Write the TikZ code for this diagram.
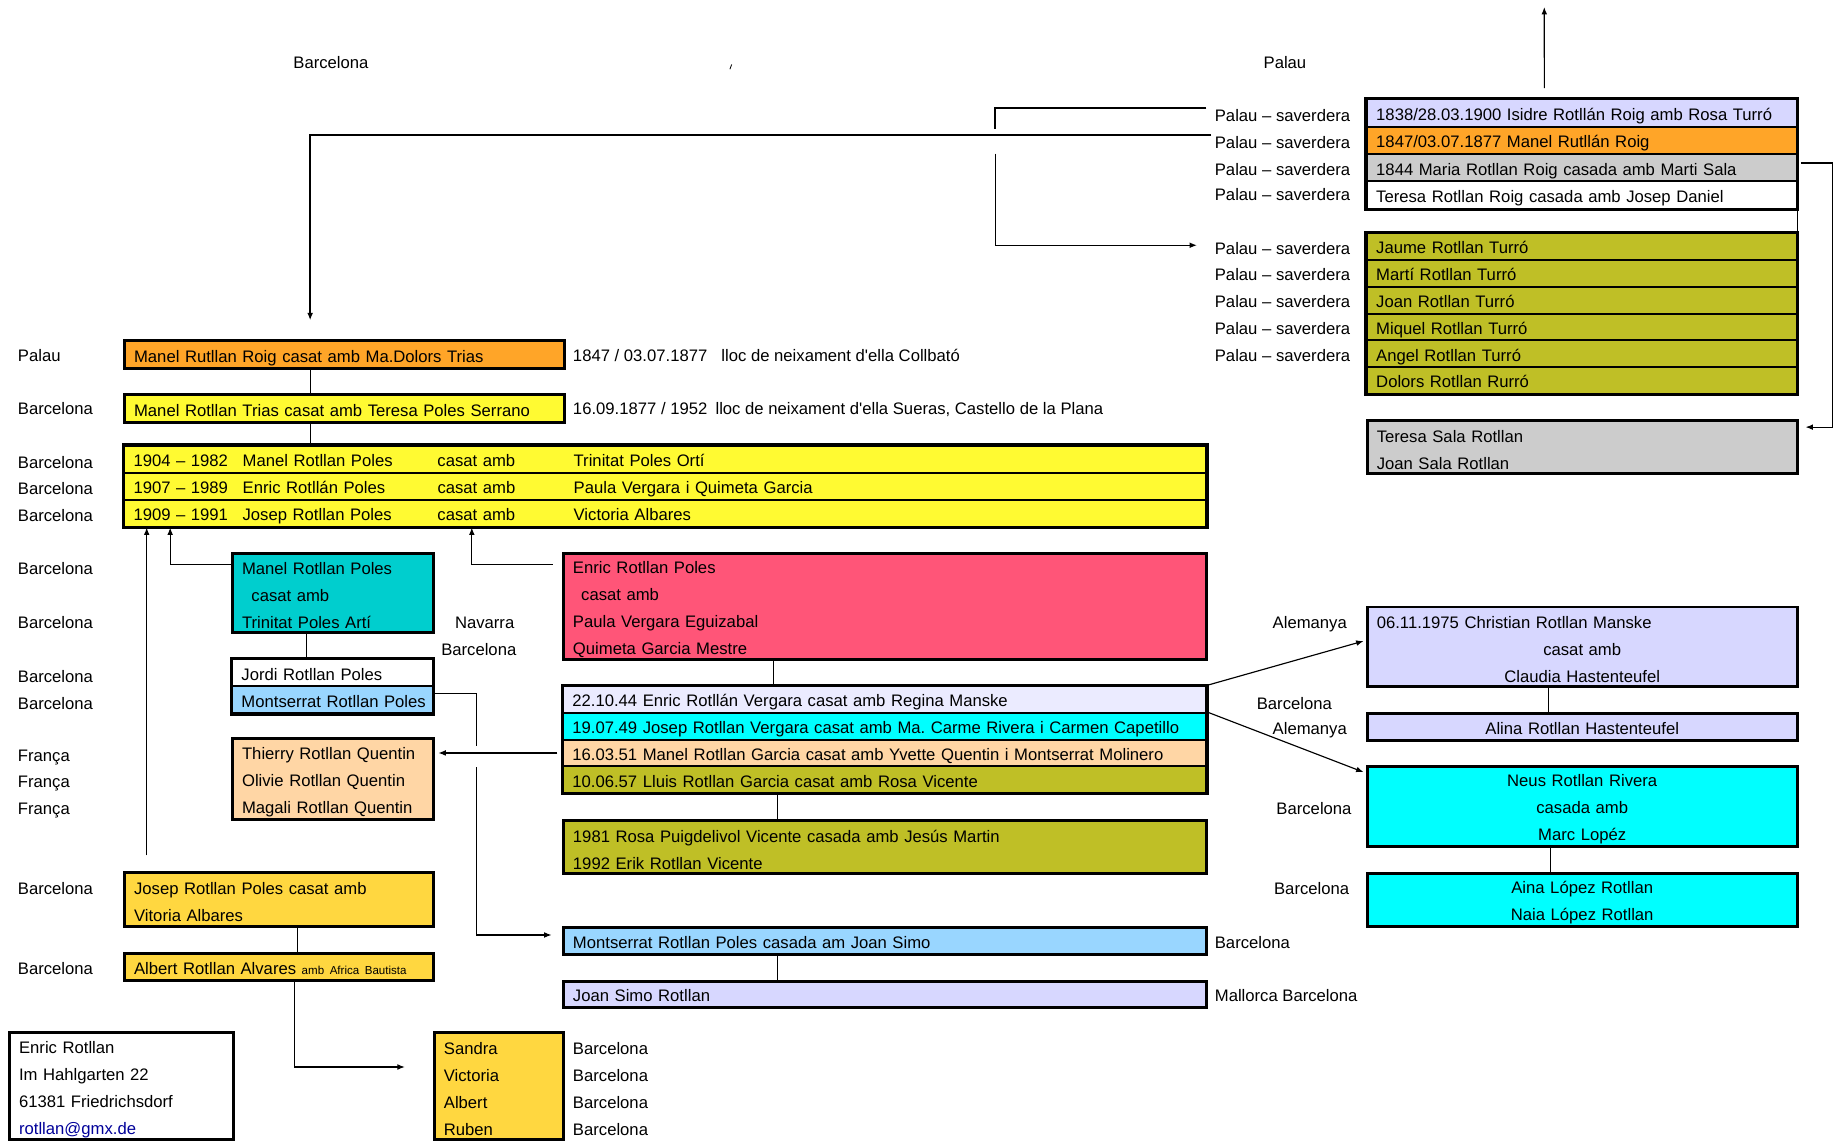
\documentclass[tikz,border=0pt]{standalone}
\usepackage{fontspec}
\setmainfont{Liberation Sans}
\usepackage{xcolor}
\usetikzlibrary{arrows.meta}

\definecolor{lavande}{RGB}{215,215,255}
\definecolor{lavclair}{RGB}{235,235,255}
\definecolor{orangeR}{RGB}{255,165,40}
\definecolor{gris1}{RGB}{204,204,204}
\definecolor{olive1}{RGB}{191,191,38}
\definecolor{jaune1}{RGB}{255,250,50}
\definecolor{turquoise1}{RGB}{0,206,206}
\definecolor{rose1}{RGB}{255,85,120}
\definecolor{bleuclair}{RGB}{153,214,255}
\definecolor{peche}{RGB}{255,214,165}
\definecolor{cyan1}{RGB}{0,255,255}
\definecolor{or1}{RGB}{255,215,64}
\definecolor{bleumail}{RGB}{0,0,153}

% colonnes du grand cadre jaune
\newcommand{\fila}[3]{\makebox[2.325cm][l]{#1}\makebox[4.15cm][l]{#2}\makebox[2.9cm][l]{casat amb}#3}

\begin{document}
\begin{tikzpicture}[x=0.025cm, y=-0.025cm,
    font=\fontsize{10.1}{16.4}\selectfont\frenchspacing,
    rangee/.style={draw, line width=1.1pt, anchor=north west, inner xsep=0.2cm, inner ysep=0pt,
        text height=11pt, text depth=2.1pt, align=left},
    boite/.style={draw, line width=1.8pt, anchor=north west, inner xsep=0.2cm, inner ysep=0pt,
        text height=11pt, align=left},
    cadre/.style={draw, line width=1.8pt},
    lieu/.style={inner sep=0pt, text height=11pt, text depth=2.1pt},
    lien/.style={line width=0.7pt},
    fleche/.style={line width=0.7pt, -{Latex[length=4.5pt,width=3.5pt]}}]
    \useasboundingbox (0,0) rectangle (1568,973);
    %\draw[help lines, step=50] (0,0) grid (1568,973);

    % en-tete
    \node[lieu] (hbcn) at (282,52) {Barcelona};
    \node[lieu] (hpal) at (1095,52) {Palau};
    \draw[line width=0.5pt] (622,59) -- (623.5,55);

    % Palau : Isidre et ses freres et soeurs
    \node[rangee, fill=lavande, text width=8.75cm, minimum height=0.58cm] (r1a) at (1164,84) {1838/28.03.1900 Isidre Rotllán Roig amb Rosa Turró};
    \node[rangee, fill=orangeR, text width=8.75cm, minimum height=0.58cm] (r1b) at (1164,107.25) {1847/03.07.1877 Manel Rutllán Roig};
    \node[rangee, fill=gris1, text width=8.75cm, minimum height=0.58cm] (r1c) at (1164,130.5) {1844 Maria Rotllan Roig casada amb Marti Sala};
    \node[rangee, text width=8.75cm, minimum height=0.58cm] (r1d) at (1164,153.75) {Teresa Rotllan Roig casada amb Josep Daniel};
    \draw[cadre] (r1a.north west) rectangle (r1d.south east);

    \node[rangee, fill=olive1, text width=8.75cm, minimum height=0.57cm] (r2a) at (1164,198) {Jaume Rotllan Turró};
    \node[rangee, fill=olive1, text width=8.75cm, minimum height=0.57cm] (r2b) at (1164,220.8) {Martí Rotllan Turró};
    \node[rangee, fill=olive1, text width=8.75cm, minimum height=0.57cm] (r2c) at (1164,243.7) {Joan Rotllan Turró};
    \node[rangee, fill=olive1, text width=8.75cm, minimum height=0.57cm] (r2d) at (1164,266.5) {Miquel Rotllan Turró};
    \node[rangee, fill=olive1, text width=8.75cm, minimum height=0.57cm] (r2e) at (1164,289.3) {Angel Rotllan Turró};
    \node[rangee, fill=olive1, text width=8.75cm, minimum height=0.57cm] (r2f) at (1164,312.2) {Dolors Rotllan Rurró};
    \draw[cadre] (r2a.north west) rectangle (r2f.south east);

    \node[boite, fill=gris1, text width=8.75cm, minimum height=1.125cm] (r3) at (1164,357) {Teresa Sala Rotllan\\Joan Sala Rotllan};

    \node[lieu, anchor=west] (pa1) at (1035,97) {Palau – saverdera};
    \node[lieu, anchor=west] (pa2) at (1035,120) {Palau – saverdera};
    \node[lieu, anchor=west] (pa3) at (1035,143) {Palau – saverdera};
    \node[lieu, anchor=west] (pa4) at (1035,165) {Palau – saverdera};
    \node[lieu, anchor=west] (pa5) at (1035,211) {Palau – saverdera};
    \node[lieu, anchor=west] (pa6) at (1035,233) {Palau – saverdera};
    \node[lieu, anchor=west] (pa7) at (1035,256) {Palau – saverdera};
    \node[lieu, anchor=west] (pa8) at (1035,279) {Palau – saverdera};
    \node[lieu, anchor=west] (pa9) at (1035,302) {Palau – saverdera};

    % branche de gauche
    \node[rangee, fill=orangeR, line width=1.8pt, text width=8.975cm, minimum height=0.6cm] (l1) at (105,289) {Manel Rutllan Roig casat amb Ma.Dolors Trias};
    \node[rangee, fill=jaune1, line width=1.8pt, text width=8.975cm, minimum height=0.6cm] (l2) at (105,335) {Manel Rotllan Trias casat amb Teresa Poles Serrano};
    \node[lieu, anchor=west] (dl1) at (488,302) {1847 / 03.07.1877\hspace{0.3cm}lloc de neixament d\textquotesingle ella Collbató};
    \node[lieu, anchor=west] (dl2) at (488,347) {16.09.1877 / 1952\hspace{0.175cm}lloc de neixament d\textquotesingle ella Sueras, Castello de la Plana};

    \node[rangee, fill=jaune1, text width=22.65cm, minimum height=0.575cm] (l3a) at (105,379) {\fila{1904 – 1982}{Manel Rotllan Poles}{Trinitat Poles Ortí}};
    \node[rangee, fill=jaune1, text width=22.65cm, minimum height=0.575cm] (l3b) at (105,402) {\fila{1907 – 1989}{Enric Rotllán Poles}{Paula Vergara i Quimeta Garcia}};
    \node[rangee, fill=jaune1, text width=22.65cm, minimum height=0.575cm] (l3c) at (105,425) {\fila{1909 – 1991}{Josep Rotllan Poles}{Victoria Albares}};
    \draw[cadre] (l3a.north west) rectangle (l3c.south east);

    \node[boite, fill=turquoise1, text width=3.875cm, minimum height=1.7cm] (c1) at (197,470) {Manel Rotllan Poles\\\hspace*{0.2cm}casat amb\\Trinitat Poles Artí};
    \node[rangee, text width=3.875cm, minimum height=0.575cm] (ja) at (197,561) {Jordi Rotllan Poles};
    \node[rangee, fill=bleuclair, text width=3.875cm, minimum height=0.575cm] (jb) at (197,584) {\mbox{Montserrat Rotllan Poles}};
    \draw[cadre] (ja.north west) rectangle (jb.south east);
    \node[boite, fill=peche, text width=3.875cm, minimum height=1.725cm] (t) at (197,628) {Thierry Rotllan Quentin\\Olivie Rotllan Quentin\\Magali Rotllan Quentin};

    \node[lieu] (nav) at (413,529) {Navarra};
    \node[lieu] (nbcn) at (408,552) {Barcelona};

    \node[boite, fill=rose1, text width=13.3cm, minimum height=2.275cm] (p) at (479,470) {Enric Rotllan Poles\\\hspace*{0.175cm}casat amb\\Paula Vergara Eguizabal\\Quimeta Garcia Mestre};
    \node[rangee, fill=lavclair, text width=13.3cm, minimum height=0.569cm] (qa) at (479,584) {22.10.44 Enric Rotllán Vergara casat amb Regina Manske};
    \node[rangee, fill=cyan1, text width=13.3cm, minimum height=0.569cm] (qb) at (479,606.75) {19.07.49 Josep Rotllan Vergara casat amb Ma. Carme Rivera i Carmen Capetillo};
    \node[rangee, fill=peche, text width=13.3cm, minimum height=0.569cm] (qc) at (479,629.5) {16.03.51 Manel Rotllan Garcia casat amb Yvette Quentin i Montserrat Molinero};
    \node[rangee, fill=olive1, text width=13.3cm, minimum height=0.569cm] (qd) at (479,652.25) {10.06.57 Lluis Rotllan Garcia casat amb Rosa Vicente};
    \draw[cadre] (qa.north west) rectangle (qd.south east);
    \node[boite, fill=olive1, text width=13.3cm, minimum height=1.125cm] (o) at (479,698) {1981 Rosa Puigdelivol Vicente casada amb Jesús Martin\\1992 Erik Rotllan Vicente};
    \node[rangee, fill=bleuclair, line width=1.8pt, text width=13.3cm, minimum height=0.575cm] (m) at (479,789) {Montserrat Rotllan Poles casada am Joan Simo};
    \node[rangee, fill=lavande, line width=1.8pt, text width=13.3cm, minimum height=0.55cm] (s) at (479,835) {Joan Simo Rotllan};
    \node[lieu, anchor=west] (mbcn) at (1035,802) {Barcelona};
    \node[lieu, anchor=west] (sbcn) at (1035,847) {Mallorca Barcelona};

    \node[boite, fill=or1, text width=6.175cm, minimum height=1.15cm] (jp) at (105,742) {Josep Rotllan Poles casat amb\\Vitoria Albares};
    \node[rangee, fill=or1, line width=1.8pt, text width=6.175cm, minimum height=0.575cm] (ar) at (105,811) {Albert Rotllan Alvares {\fontsize{7}{8}\selectfont amb Africa Bautista}};
    \node[boite, fill=or1, text width=2.35cm, minimum height=2.275cm] (k) at (369,879) {Sandra\\Victoria\\Albert\\Ruben};
    \node[lieu, anchor=west] (k1) at (488,892) {Barcelona};
    \node[lieu, anchor=west] (k2) at (488,915) {Barcelona};
    \node[lieu, anchor=west] (k3) at (488,938) {Barcelona};
    \node[lieu, anchor=west] (k4) at (488,961) {Barcelona};
    \node[boite, text width=4.375cm, minimum height=2.275cm] (adr) at (7,879) {Enric Rotllan\\Im Hahlgarten 22\\61381 Friedrichsdorf\\\textcolor{bleumail}{rotllan@gmx.de}};

    % lieux de la marge gauche
    \node[lieu, anchor=west] (g1) at (15,302) {Palau};
    \node[lieu, anchor=west] (g2) at (15,347) {Barcelona};
    \node[lieu, anchor=west] (g3) at (15,393) {Barcelona};
    \node[lieu, anchor=west] (g4) at (15,415) {Barcelona};
    \node[lieu, anchor=west] (g5) at (15,438) {Barcelona};
    \node[lieu, anchor=west] (g6) at (15,483) {Barcelona};
    \node[lieu, anchor=west] (g7) at (15,529) {Barcelona};
    \node[lieu, anchor=west] (g8) at (15,575) {Barcelona};
    \node[lieu, anchor=west] (g9) at (15,598) {Barcelona};
    \node[lieu, anchor=west] (g10) at (15,643) {França};
    \node[lieu, anchor=west] (g11) at (15,665) {França};
    \node[lieu, anchor=west] (g12) at (15,688) {França};
    \node[lieu, anchor=west] (g13) at (15,756) {Barcelona};
    \node[lieu, anchor=west] (g14) at (15,824) {Barcelona};

    % branche d'Allemagne et de Barcelone
    \node[boite, fill=lavande, text width=8.75cm, minimum height=1.7cm] (ch) at (1164,516) {06.11.1975 Christian Rotllan Manske\\\makebox[\linewidth]{casat amb}\\\makebox[\linewidth]{Claudia Hastenteufel}};
    \node[rangee, fill=lavande, line width=1.8pt, align=center, text width=8.75cm, minimum height=0.575cm] (al) at (1164,607) {Alina Rotllan Hastenteufel};
    \node[boite, fill=cyan1, align=center, text width=8.75cm, minimum height=1.7cm] (n) at (1164,652) {Neus Rotllan Rivera\\casada amb\\Marc Lopéz};
    \node[boite, fill=cyan1, align=center, text width=8.75cm, minimum height=1.125cm] (na) at (1164,743) {Aina López Rotllan\\Naia López Rotllan};
    \node[lieu, anchor=east] (d1) at (1148,529) {Alemanya};
    \node[lieu] (d2) at (1103,598) {Barcelona};
    \node[lieu, anchor=east] (d3) at (1148,620) {Alemanya};
    \node[lieu, anchor=east] (d4) at (1152,688) {Barcelona};
    \node[lieu, anchor=east] (d5) at (1150,756) {Barcelona};

    % liens
    \coordinate (haut) at (1316,6);
    \coordinate (crochet) at (848,110);
    \coordinate (depart) at (848,131);
    \coordinate (saut1) at (406,636);
    \coordinate (saut2) at (406,654);
    \draw[fleche] ([xshift=3.8cm, yshift=0.225cm]r1a.north west) -- (haut);
    \draw[lien, line width=1pt] ([xshift=-0.175cm, yshift=0.125cm]pa1.west) -| (crochet);
    \draw[fleche, line width=1pt] ([xshift=-0.075cm, yshift=0.125cm]pa2.west) -| ([xshift=-0.7375cm, yshift=0.4cm]l1.north);
    \draw[fleche] (depart) |- ([xshift=-0.375cm, yshift=0.05cm]pa5.west);
    \draw[lien] (r1d.south east) -- (r2a.north east);
    \draw[fleche] ([xshift=0.075cm, yshift=0.1cm]r1c.east) -- ++(27,0) |- ([xshift=0.15cm, yshift=-0.175cm]r3.north east);
    \draw[lien] ([xshift=-0.7375cm]l1.south) -- ([xshift=-0.7375cm]l2.north);
    \draw[lien] ([xshift=-0.7375cm]l2.south) -- ([xshift=-0.7375cm]l2.south |- l3a.north);
    \draw[fleche] ([xshift=0.5cm, yshift=0.325cm]jp.north west) -- ([xshift=0.5cm]jp.north west |- l3c.south);
    \draw[fleche] ([yshift=-0.275cm]c1.north west) -| ([xshift=1cm]l3c.south west);
    \draw[fleche] ([xshift=-0.2cm, yshift=-0.275cm]p.north west) -| ([xshift=7.425cm]l3c.south west);
    \draw[lien] ([xshift=-0.5625cm]c1.south) -- ([xshift=-0.5625cm]c1.south |- ja.north);
    \draw[lien] ([yshift=0.125cm]jb.east) -| (saut1);
    \draw[fleche] (saut2) |- ([xshift=-0.225cm, yshift=0.125cm]m.west);
    \draw[fleche] ([xshift=-0.1cm]qc.west) -- ([xshift=0.075cm]qc.west -| t.east);
    \draw[lien] ([xshift=-2.375cm]p.south) -- ([xshift=-2.375cm]p.south |- qa.north);
    \draw[lien] ([xshift=-2.275cm]qd.south) -- ([xshift=-2.275cm]qd.south |- o.north);
    \draw[lien] ([xshift=-2.3cm]m.south) -- ([xshift=-2.3cm]m.south |- s.north);
    \draw[lien] ([xshift=0.3875cm]jp.south) -- ([xshift=0.3875cm]jp.south |- ar.north);
    \draw[fleche] ([xshift=0.3375cm]ar.south) |- ([xshift=-0.6cm, yshift=0.4125cm]k.west);
    \draw[fleche] (qa.north east) -- ([xshift=-0.05cm, yshift=0.125cm]ch.west);
    \draw[fleche] (qb.north east) -- ([xshift=-0.05cm, yshift=-0.15cm]n.north west);
    \draw[lien] ([xshift=-0.725cm]ch.south) -- ([xshift=-0.725cm]ch.south |- al.north);
    \draw[lien] ([xshift=-0.675cm]n.south) -- ([xshift=-0.675cm]n.south |- na.north);
\end{tikzpicture}
\end{document}
